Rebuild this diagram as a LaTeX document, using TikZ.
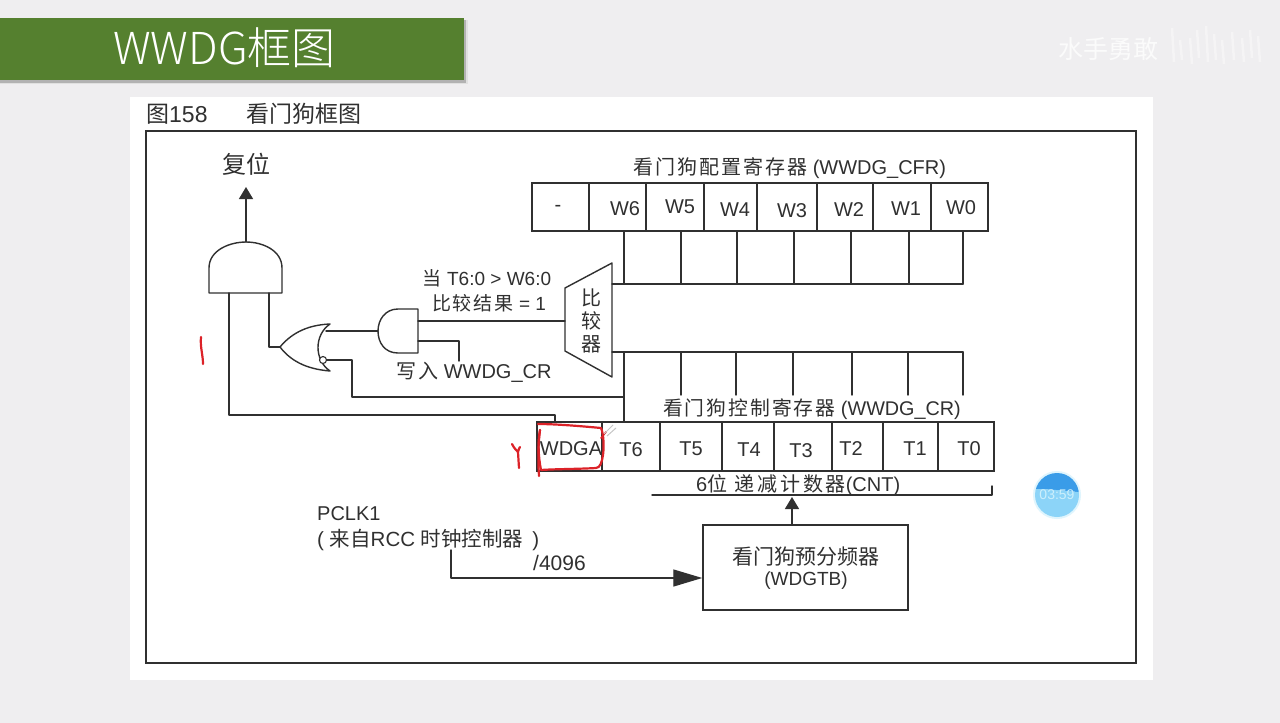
\documentclass[tikz,border=0pt]{standalone}
\usepackage{fontspec}
\setmainfont{Liberation Sans}
\newfontfamily\cjk{Noto Sans CJK SC}
\newfontfamily\cjkl{Noto Sans CJK SC Light}
\newfontfamily\cjks[LetterSpace=10]{Noto Sans CJK SC}
\newfontfamily\cjkw[LetterSpace=14]{Noto Sans CJK SC}
\newcommand{\fsz}[1]{\fontsize{#1}{#1}\selectfont}
\usetikzlibrary{arrows.meta}
\definecolor{ink}{HTML}{303030}
\definecolor{bgc}{HTML}{EFEEF0}
\definecolor{banner}{HTML}{55802F}
\definecolor{pen}{HTML}{DC2228}
\tikzset{
  x=1pt,y=-1pt,
  wire/.style={draw=ink,line width=1.4pt,line cap=round,line join=round},
  gate/.style={draw=ink,line width=1.4pt,line join=round},
  cellbox/.style={draw=ink,line width=1.4pt,inner sep=0pt,minimum height=48pt},
  lab/.style={inner sep=0pt,text=ink,font=\fsz{20}},
  tlab/.style={inner sep=0pt,text=ink,font=\fsz{19},anchor=west},
  penline/.style={draw=pen,line width=2.2pt,line cap=round,line join=round},
  bigarrow/.style={-{Triangle[length=29pt,width=17pt]}},
  midarrow/.style={-{Triangle[length=12pt,width=14pt]}},
}
\begin{document}
\begin{tikzpicture}
\useasboundingbox (0,0) rectangle (1280,723);
\fill[bgc] (0,0) rectangle (1280,723);
% banner
\fill[black!12] (0,20) rectangle (468,84);
\fill[black!30] (0,20) rectangle (466,82.5);
\fill[banner] (0,18) rectangle (464,80);
\node[inner sep=0pt,text=white,anchor=mid west,font=\fsz{44}] (title) at (113,62) {\cjkl WWDG框图};
% panel
\fill[white] (130,97) rectangle (1153,680);
\node[tlab,font=\fsz{23},anchor=mid west] (figno) at (146,120) {{\cjk 图}158};
\node[tlab,anchor=mid west,font=\fsz{23}] (figname) at (246,120) {\cjk 看门狗框图};
\draw[ink,line width=1.5pt] (146,131) rectangle (1136,663);
% watermark
\node[inner sep=0pt,text=white!75!bgc,anchor=mid west,font=\fsz{25}] (mark) at (1058,56) {\cjk 水手勇敢};
\foreach \x/\a/\b in {1172/28/62,1180/40/60,1190/38/64,1197/30/58,1206/26/62,1214/34/60,1222/40/64,1232/32/60,1242/38/62,1250/30/58,1258/36/62}
  \draw[white!35!bgc,line width=2.5pt] (\x,\a) -- (\x+2,\b);
% WWDG_CFR register
\node[lab,anchor=mid west,font=\fsz{20}] (cfrtitle) at (633,172) {{\cjks 看门狗配置寄存器} (WWDG\_CFR)};
\foreach \n/\a/\b/\tx/\ty/\t in {wx/532/589/558/208/-,w6/589/646/625/209/W6,w5/646/704/680/207/W5,w4/704/757/735/210/W4,w3/757/817/792/211/W3,w2/817/873/849/210/W2,w1/873/931/906/209/W1,w0/931/988/961/208/W0}{
  \node[cellbox,minimum width={(\b-\a)*1pt}] (\n) at ({(\a+\b)/2},207) {};
  \node[lab] (\n t) at (\tx,\ty) {\t};
}
% comparator
\coordinate (ctl) at (565,288);
\coordinate (ctr) at (612,263);
\coordinate (cbr) at (612,377);
\coordinate (cbl) at (565,351);
\draw[gate] (ctl) -- (ctr) -- (cbr) -- (cbl) -- cycle;
\node[lab,font=\fsz{20}] (c1) at (591,298) {\cjk 比};
\node[lab,font=\fsz{20}] (c2) at (591,321) {\cjk 较};
\node[lab,font=\fsz{20}] (c3) at (591,344) {\cjk 器};
% upper bus
\coordinate (ubs) at (612,284);
\coordinate (ube) at (963,284);
\draw[wire] (ubs) -- (ube);
\foreach \i/\x in {1/624,2/681,3/737,4/794,5/851,6/909,7/963}{
  \coordinate (ua\i) at (\x,231);
  \coordinate (ub\i) at (\x,284);
  \draw[wire] (ua\i) -- (ub\i);
}
% lower bus
\coordinate (lbs) at (612,352);
\coordinate (lbe) at (963,352);
\draw[wire] (lbs) -- (lbe);
\foreach \i/\x in {2/681,3/736,4/793,5/852,6/908,7/963}{
  \coordinate (la\i) at (\x,352);
  \coordinate (lb\i) at (\x,395);
  \draw[wire] (la\i) -- (lb\i);
}
\coordinate (la1) at (624,352);
\coordinate (lb1) at (624,422);
\draw[wire] (la1) -- (lb1);
% WWDG_CR register
\node[lab,anchor=mid west,font=\fsz{19.8}] (crtitle) at (663,413) {{\cjks 看门狗控制寄存器} (WWDG\_CR)};
\foreach \n/\a/\b/\tx/\ty/\t in {wdga/537/602/571/449/WDGA,t6/602/660/631/450/T6,t5/660/722/691/449/T5,t4/722/774/749/450/T4,t3/774/832/801/451/T3,t2/832/883/851/449/T2,t1/883/938/915/449/T1,t0/938/994/969/449/T0}{
  \node[cellbox,minimum width={(\b-\a)*1pt},minimum height=49pt] (\n) at ({(\a+\b)/2},446.5) {};
  \node[lab] (\n t) at (\tx,\ty) {\t};
}
% gates
\draw[gate] (209,293) -- (209,268) .. controls (209,250) and (230,242) .. (246,242) .. controls (262,242) and (282,250) .. (282,268) -- (282,293) -- cycle;
\coordinate (andOut) at (246,242);
\coordinate (andA) at (229,293);
\coordinate (andB) at (269,293);
\coordinate (resetTip) at (246,187);
\draw[wire,midarrow] (andOut) -- (resetTip);
\node[lab,font=\fsz{24}] (reset) at (246,164) {\cjk 复位};
\draw[gate] (330,324) .. controls (305,325) and (290,335) .. (280,347) .. controls (290,360) and (305,369) .. (330,371) .. controls (314,360) and (314,335) .. (330,324) -- cycle;
\coordinate (norOut) at (280,347);
\coordinate (norA) at (326,331);
\node[circle,draw=ink,line width=1.1pt,fill=white,inner sep=0pt,minimum size=7pt] (bubble) at (323,360) {};
\draw[gate] (418,309) -- (398,309) .. controls (385,309) and (378,320) .. (378,331) .. controls (378,343) and (385,353) .. (398,353) -- (418,353) -- cycle;
\coordinate (sandIn) at (378,331);
\coordinate (sandOut) at (418,321);
\coordinate (sandB) at (418,341);
\coordinate (cmpIn) at (565,321);
\coordinate (wrEnd) at (459,361);
\coordinate (wdgTop) at (555,422);
\coordinate (busT) at (624,397);
% connectors
\draw[wire] (andA) |- (wdgTop |- 0,415) -- (wdgTop);
\draw[wire] (andB) |- (norOut);
\draw[wire] (norA) -- (sandIn);
\draw[wire] (sandOut) -- (cmpIn);
\draw[wire] (sandB) -| (wrEnd);
\draw[wire] (bubble.east) -- (352,360) |- (busT);
% labels
\node[lab,font=\fsz{19}] (cmplab1) at (487,278) {{\cjk 当} T6:0 > W6:0};
\node[lab,font=\fsz{19}] (cmplab2) at (489,303) {{\cjks 比较结果} = 1};
\node[lab,anchor=mid west,font=\fsz{20}] (wrlab) at (396,376) {{\cjks 写入} WWDG\_CR};
% counter
\coordinate (cntL) at (652,495);
\coordinate (cntR) at (992,495);
\coordinate (cntT) at (992,486);
\draw[wire] (cntL) -- (cntR) -- (cntT);
\node[lab,anchor=mid west,font=\fsz{20}] (cntlab) at (696,489) {6{\cjkw 位 递减计数器}(CNT)};
% prescaler
\node[draw=ink,line width=1.5pt,inner sep=0pt,minimum width=205pt,minimum height=85pt] (wdgtb) at (805.5,567.5) {};
\node[lab,font=\fsz{21}] (pre1) at (806,557) {\cjk 看门狗预分频器};
\node[lab,font=\fsz{19}] (pre2) at (806,581) {(WDGTB)};
\coordinate (cntIn) at (792,497);
\draw[wire,midarrow] (wdgtb.north -| cntIn) -- (cntIn);
% PCLK
\node[lab,anchor=mid west,font=\fsz{20}] (pclk) at (317,518) {PCLK1};
\node[lab,anchor=mid west,font=\fsz{20.5}] (rcc) at (317,544) {( {\cjk 来自}RCC {\cjk 时钟控制器} \,)};
\node[lab,anchor=mid west,font=\fsz{21}] (div) at (533,568) {/4096};
\coordinate (clkS) at (451,550);
\draw[wire,bigarrow] (clkS) |- (wdgtb.west |- 0,578);
% red pen
\draw[penline] (201,337) .. controls (200,347) and (203,355) .. (203,364);
\draw[penline] (512,444) .. controls (514,448) and (516,450) .. (518,452) .. controls (519,449) and (519,448) .. (520,447);
\draw[penline] (518,452) -- (519,468);
\draw[penline] (538,424) .. controls (555,424) and (580,426) .. (601,428) .. controls (604,435) and (604,448) .. (603,455) .. controls (602,462) and (600,468) .. (596,468) .. controls (580,469) and (555,469) .. (541,470) .. controls (538,455) and (538,440) .. (540,430);
\draw[penline] (540,430) .. controls (538,445) and (538,462) .. (539,476);
\draw[penline,line width=1.6pt] (601,438) -- (606,432);
\draw[white!55!gray,line width=1pt] (604,434) -- (613,425);
\draw[white!55!gray,line width=1pt] (607,436) -- (616,428);
% timer badge
\fill[white!88!cyan] (1057,495) circle (24);
\begin{scope}
\clip (1057,495) circle (22);
\fill[fill={rgb,255:red,58;green,156;blue,232}] (1030,470) -- (1085,470) -- (1085,493) .. controls (1070,491) and (1050,489) .. (1030,489) -- cycle;
\fill[fill={rgb,255:red,140;green,212;blue,248}] (1030,489) .. controls (1050,489) and (1070,491) .. (1085,493) -- (1085,520) -- (1030,520) -- cycle;
\end{scope}
\node[inner sep=0pt,text=white!80!cyan,font=\fsz{14}] (timer) at (1057,495) {03:59};
\end{tikzpicture}
\end{document}
